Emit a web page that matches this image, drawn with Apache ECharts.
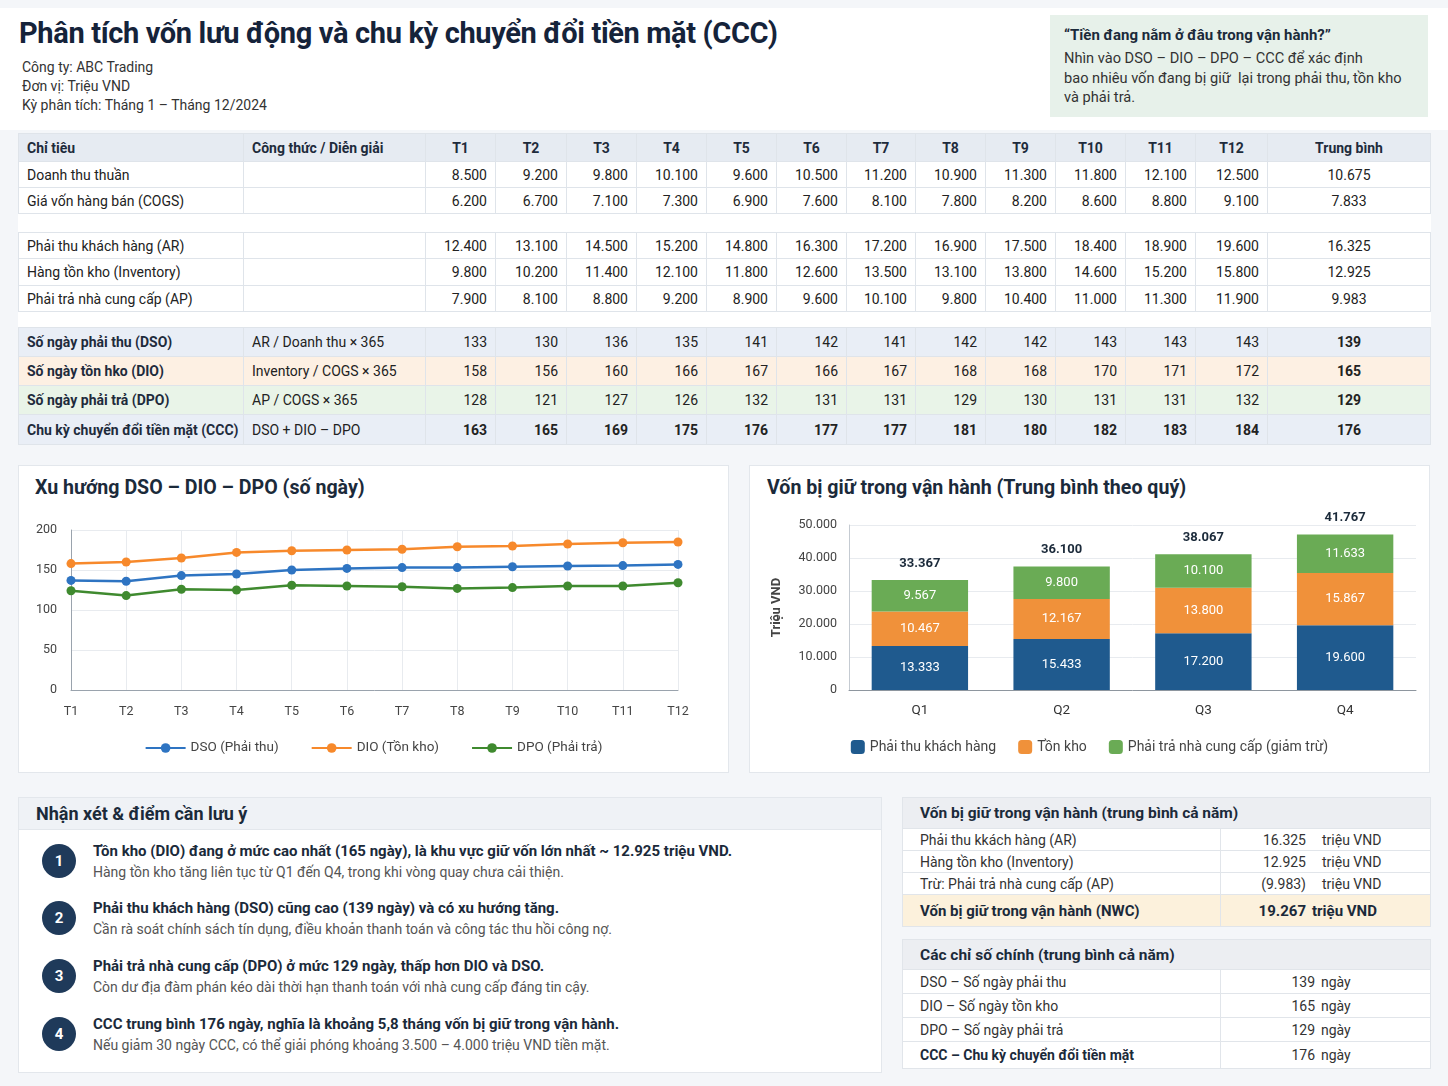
<!DOCTYPE html>
<html><head><meta charset="utf-8">
<script src="https://cdn.jsdelivr.net/npm/echarts/dist/echarts.min.js"></script>
<style>
body{margin:0;width:1448px;height:1086px;background:#f4f6f9;font-family:Roboto,"Noto Sans",sans-serif;color:#222;position:relative;overflow:hidden}
.abs{position:absolute}
#header{left:0;top:8px;width:1448px;height:122px;background:#fff}
#title{left:19px;top:16px;font-size:29px;font-weight:700;color:#15233a;letter-spacing:-0.35px;white-space:nowrap}
.sub{left:22px;font-size:14px;color:#333;white-space:nowrap}
#quote{left:1050px;top:15px;width:378px;height:102px;background:#e7f1ea;box-sizing:border-box;padding:10px 14px}
#quote .qt{font-size:15px;font-weight:700;color:#1b2a3a;line-height:20px;margin-bottom:4px}
#quote .qx{font-size:14.6px;color:#333;line-height:19.5px}
#tbl{left:18px;top:133px;width:1412px;border-collapse:collapse;table-layout:fixed;font-size:14px;color:#222;background:#fff}
#tbl td,#tbl th{border:1px solid #dfe4ea;padding:0 8px;white-space:nowrap;overflow:hidden}
#tbl th{background:#e6ebf2;font-weight:700;color:#1e2b3c;text-align:center}
#tbl th.l{text-align:left}
#tbl td.num{text-align:right}
#tbl td.avg{text-align:center}
#tbl tr.sp td{border-left:none;border-right:none;background:#fff}
#tbl tr.ratio td.name{font-weight:700;color:#1e2b3c}
.panel{background:#fff;border:1px solid #e3e7ec;box-sizing:border-box}
.ptitle{font-size:19.6px;font-weight:700;color:#1b2a3a;white-space:nowrap}
#notes{left:18px;top:797px;width:864px;height:276px}
#notes .hd{height:31px;background:#eff2f6;border-bottom:1px solid #e3e7ec;font-size:18px;font-weight:700;color:#1b2a3a;line-height:31px;padding-left:17px}
.circ{width:34px;height:34px;border-radius:17px;background:#1f3a5a;color:#fff;font-weight:700;font-size:15px;text-align:center;line-height:34px}
.nb{font-size:15px;font-weight:700;color:#1b2a3a;white-space:nowrap}
.ns{font-size:14px;color:#555;white-space:nowrap}
.st{border-collapse:collapse;table-layout:fixed;width:528px;font-size:14px;color:#333;background:#fff}
.st td{border:1px solid #e1e5ea;padding:0 0 0 17px;white-space:nowrap}
.st th{background:#eceef2;text-align:left;font-size:15.5px;font-weight:700;color:#1b2a3a;padding-left:17px;border:1px solid #e1e5ea}
.st td.v{padding:0}
.vv{display:inline-block;width:85px;text-align:right}
.vu{display:inline-block;padding-left:16px}
</style></head>
<body>
<div id="header" class="abs"></div>
<div id="title" class="abs">Phân tích vốn lưu động và chu kỳ chuyển đổi tiền mặt (CCC)</div>
<div class="abs sub" style="top:59px">Công ty: ABC Trading</div>
<div class="abs sub" style="top:78px">Đơn vị: Triệu VND</div>
<div class="abs sub" style="top:97px">Kỳ phân tích: Tháng 1 – Tháng 12/2024</div>
<div id="quote" class="abs">
  <div class="qt">“Tiền đang nằm ở đâu trong vận hành?”</div>
  <div class="qx">Nhìn vào DSO – DIO – DPO – CCC để xác định<br>bao nhiêu vốn đang bị giữ&nbsp; lại trong phải thu, tồn kho<br>và phải trả.</div>
</div>
<table id="tbl" class="abs"></table>

<div class="abs panel" style="left:18px;top:465px;width:711px;height:308px"></div>
<div class="abs ptitle" style="left:35px;top:476px">Xu hướng DSO – DIO – DPO (số ngày)</div>
<div id="lineChart" class="abs" style="left:18px;top:465px;width:711px;height:308px"></div>

<div class="abs panel" style="left:749px;top:465px;width:681px;height:308px"></div>
<div class="abs ptitle" style="left:767px;top:476px">Vốn bị giữ trong vận hành (Trung bình theo quý)</div>
<div id="barChart" class="abs" style="left:749px;top:465px;width:681px;height:308px"></div>

<div id="notes" class="abs panel"><div class="hd">Nhận xét &amp; điểm cần lưu ý</div></div>
<div id="wc" class="abs" style="left:902px;top:797px"></div>
<div id="kr" class="abs" style="left:902px;top:939px"></div>

<script>
// ---------- DATA ----------
const months = ['T1','T2','T3','T4','T5','T6','T7','T8','T9','T10','T11','T12'];
const revenue = [8500,9200,9800,10100,9600,10500,11200,10900,11300,11800,12100,12500];
const cogs = [6200,6700,7100,7300,6900,7600,8100,7800,8200,8600,8800,9100];
const receivables = [12400,13100,14500,15200,14800,16300,17200,16900,17500,18400,18900,19600];
const inventory = [9800,10200,11400,12100,11800,12600,13500,13100,13800,14600,15200,15800];
const payables = [7900,8100,8800,9200,8900,9600,10100,9800,10400,11000,11300,11900];
const dsoTable = [133,130,136,135,141,142,141,142,142,143,143,143];
const dioTable = [158,156,160,166,167,166,167,168,168,170,171,172];
const dpoTable = [128,121,127,126,132,131,131,129,130,131,131,132];
const cccTable = [163,165,169,175,176,177,177,181,180,182,183,184];
const averages = {revenue:10675,cogs:7833,ar:16325,inv:12925,ap:9983,dso:139,dio:165,dpo:129,ccc:176};

// line chart (read from plotted points)
const dsoTrend = [137,136,143,145,150,152,153,153,154,155,155.5,157];
const dioTrend = [158,160,165,172,174,175,176,179,180,182.5,184,185];
const dpoTrend = [124,118,126,125,131,130,129,127,128,130,130,134];
const lineTicks = [0,50,100,150,200];

// quarterly stacked bars
const quarters = ['Q1','Q2','Q3','Q4'];
const qReceivables = [13333,15433,17200,19600];
const qInventory = [10467,12167,13800,15867];
const qPayables = [9567,9800,10100,11633];
const qTotals = [33367,36100,38067,41767];

// summary
const nwcRows = [['Phải thu kkách hàng (AR)','16.325'],['Hàng tồn kho (Inventory)','12.925'],['Trừ: Phải trả nhà cung cấp (AP)','(9.983)']];
const nwcTotal = ['Vốn bị giữ trong vận hành (NWC)','19.267'];
const keyRatios = [['DSO – Số ngày phải thu','139'],['DIO – Số ngày tồn kho','165'],['DPO – Số ngày phải trả','129'],['CCC – Chu kỳ chuyển đổi tiền mặt','176']];
const notes = [
  ['Tồn kho (DIO) đang ở mức cao nhất (165 ngày), là khu vực giữ vốn lớn nhất ~ 12.925 triệu VND.','Hàng tồn kho tăng liên tục từ Q1 đến Q4, trong khi vòng quay chưa cải thiện.'],
  ['Phải thu khách hàng (DSO) cũng cao (139 ngày) và có xu hướng tăng.','Cần rà soát chính sách tín dụng, điều khoản thanh toán và công tác thu hồi công nợ.'],
  ['Phải trả nhà cung cấp (DPO) ở mức 129 ngày, thấp hơn DIO và DSO.','Còn dư địa đàm phán kéo dài thời hạn thanh toán với nhà cung cấp đáng tin cậy.'],
  ['CCC trung bình 176 ngày, nghĩa là khoảng 5,8 tháng vốn bị giữ trong vận hành.','Nếu giảm 30 ngày CCC, có thể giải phóng khoảng 3.500 – 4.000 triệu VND tiền mặt.']
];

// ---------- HELPERS ----------
const fmt = n => String(n).replace(/\B(?=(\d{3})+(?!\d))/g,'.');
const C = {blue:'#2e74c2', orange:'#f7892b', green:'#3f8a2f', bBlue:'#1f5a8e', bOrange:'#f0913a', bGreen:'#6aab55'};

// ---------- MAIN TABLE ----------
(function(){
  const widths=[225,182,70,71,70,70,70,70,69,70,70,70,70,72,163];
  let h='<colgroup>'+widths.map(w=>'<col style="width:'+w+'px">').join('')+'</colgroup>';
  h+='<tr style="height:28px"><th class="l">Chỉ tiêu</th><th class="l">Công thức / Diễn giải</th>'+months.map(m=>'<th>'+m+'</th>').join('')+'<th>Trung bình</th></tr>';
  const row=(name,formula,vals,avg,opts)=>{
    opts=opts||{};
    const bg=opts.bg?'background:'+opts.bg+';':'';
    const fw=opts.bold?'font-weight:700;':'';
    return '<tr class="'+(opts.cls||'')+'" style="height:'+opts.h+'px;'+bg+'"><td class="name">'+name+'</td><td>'+formula+'</td>'+
      vals.map(v=>'<td class="num" style="'+fw+'">'+fmt(v)+'</td>').join('')+
      '<td class="avg" style="'+(opts.avgBold?'font-weight:700;':'')+'">'+fmt(avg)+'</td></tr>';
  };
  const sp=hgt=>'<tr class="sp" style="height:'+hgt+'px"><td colspan="15"></td></tr>';
  h+=row('Doanh thu thuần','',revenue,averages.revenue,{h:26});
  h+=row('Giá vốn hàng bán (COGS)','',cogs,averages.cogs,{h:26});
  h+=sp(19);
  h+=row('Phải thu khách hàng (AR)','',receivables,averages.ar,{h:26});
  h+=row('Hàng tồn kho (Inventory)','',inventory,averages.inv,{h:27});
  h+=row('Phải trả nhà cung cấp (AP)','',payables,averages.ap,{h:26});
  h+=sp(16);
  h+=row('Số ngày phải thu (DSO)','AR / Doanh thu × 365',dsoTable,averages.dso,{h:29,bg:'#e9eef6',cls:'ratio',avgBold:true});
  h+=row('Số ngày tồn hko (DIO)','Inventory / COGS × 365',dioTable,averages.dio,{h:29,bg:'#fdf0e3',cls:'ratio',avgBold:true});
  h+=row('Số ngày phải trả (DPO)','AP / COGS × 365',dpoTable,averages.dpo,{h:29,bg:'#e9f4e8',cls:'ratio',avgBold:true});
  h+=row('Chu kỳ chuyển đổi tiền mặt (CCC)','DSO + DIO – DPO',cccTable,averages.ccc,{h:30,bg:'#e9eef6',cls:'ratio',bold:true,avgBold:true});
  document.getElementById('tbl').innerHTML=h;
  document.querySelectorAll('#tbl td.num').forEach(td=>td.style.paddingRight='8px');
})();

// ---------- NOTES ----------
(function(){
  const box=document.getElementById('notes');
  const ys=[54,111,169,227];
  notes.forEach((n,i)=>{
    const c=document.createElement('div');c.className='abs circ';c.style.left='23px';c.style.top=(ys[i]+7-17+2)+'px';c.textContent=i+1;box.appendChild(c);
    const b=document.createElement('div');b.className='abs nb';b.style.left='74px';b.style.top=(ys[i]-10)+'px';b.textContent=n[0];box.appendChild(b);
    const s=document.createElement('div');s.className='abs ns';s.style.left='74px';s.style.top=(ys[i]+12)+'px';s.textContent=n[1];box.appendChild(s);
  });
})();

// ---------- SUMMARY TABLES ----------
(function(){
  let h='<table class="st"><colgroup><col style="width:318px"><col style="width:210px"></colgroup>';
  h+='<tr style="height:31px"><th colspan="2">Vốn bị giữ trong vận hành (trung bình cả năm)</th></tr>';
  nwcRows.forEach(r=>{h+='<tr style="height:22px"><td>'+r[0]+'</td><td class="v"><span class="vv">'+r[1]+'</span><span class="vu">triệu VND</span></td></tr>';});
  h+='<tr style="height:32px;background:#fcf1dc;font-weight:700;font-size:15px;color:#1b2a3a"><td>'+nwcTotal[0]+'</td><td class="v"><span class="vv">'+nwcTotal[1]+'</span><span class="vu" style="padding-left:6px">triệu VND</span></td></tr>';
  h+='</table>';
  document.getElementById('wc').innerHTML=h;
  let k='<table class="st"><colgroup><col style="width:318px"><col style="width:210px"></colgroup>';
  k+='<tr style="height:30px"><th colspan="2">Các chỉ số chính (trung bình cả năm)</th></tr>';
  keyRatios.forEach((r,i)=>{k+='<tr style="height:'+(i==3?27:24)+'px"><td style="'+(i==3?'font-weight:700;color:#1b2a3a':'')+'">'+r[0]+'</td><td class="v"><span class="vv" style="width:94px">'+r[1]+'</span><span class="vu" style="padding-left:6px">ngày</span></td></tr>';});
  k+='</table>';
  document.getElementById('kr').innerHTML=k;
})();

// ---------- LINE CHART ----------
(function(){
  const ch=echarts.init(document.getElementById('lineChart'),null,{renderer:'canvas'});
  const mk=(name,data,color)=>({name,type:'line',data,symbol:'circle',symbolSize:9,
    lineStyle:{width:2.5,color},itemStyle:{color},emphasis:{disabled:true}});
  ch.setOption({
    animation:false,
    textStyle:{fontFamily:'Roboto'},
    grid:{left:53,right:51,top:65,bottom:83,containLabel:false},
    legend:{bottom:13,left:'center',itemWidth:40,itemHeight:12,itemGap:32,
      textStyle:{fontSize:13.5,color:'#444'},
      data:['DSO (Phải thu)','DIO (Tồn kho)','DPO (Phải trả)']},
    xAxis:{type:'category',data:months,boundaryGap:false,
      axisLine:{lineStyle:{color:'#9aa3ad'}},axisTick:{show:false},
      axisLabel:{color:'#444',fontSize:12.5,margin:15},
      splitLine:{show:true,lineStyle:{color:'#e8ebef'}}},
    yAxis:{type:'value',min:lineTicks[0],max:lineTicks[lineTicks.length-1],interval:lineTicks[1]-lineTicks[0],
      axisLine:{show:true,lineStyle:{color:'#9aa3ad'}},axisTick:{show:false},
      axisLabel:{color:'#444',fontSize:12.5,margin:14},
      splitLine:{lineStyle:{color:'#e8ebef'}}},
    series:[mk('DSO (Phải thu)',dsoTrend,C.blue),mk('DIO (Tồn kho)',dioTrend,C.orange),mk('DPO (Phải trả)',dpoTrend,C.green)]
  });
})();

// ---------- BAR CHART ----------
(function(){
  const ch=echarts.init(document.getElementById('barChart'),null,{renderer:'canvas'});
  const lab={show:true,position:'inside',color:'#fff',fontSize:13,formatter:p=>fmt(p.value)};
  const mk=(name,data,color)=>({name,type:'bar',stack:'wc',data,barWidth:'68%',itemStyle:{color},label:lab,emphasis:{disabled:true}});
  ch.setOption({
    animation:false,
    textStyle:{fontFamily:'Roboto'},
    grid:{left:100,right:14,top:60,bottom:83,containLabel:false},
    legend:{bottom:14,left:'center',itemWidth:14,itemHeight:14,itemGap:22,
      textStyle:{fontSize:14,color:'#444'},
      data:['Phải thu khách hàng','Tồn kho','Phải trả nhà cung cấp (giảm trừ)']},
    xAxis:{type:'category',data:quarters,
      axisLine:{lineStyle:{color:'#8e969f'}},axisTick:{show:false},
      axisLabel:{color:'#333',fontSize:13.5,margin:14}},
    yAxis:{type:'value',min:0,max:50000,interval:10000,
      name:'Triệu VND',nameLocation:'middle',nameGap:66,nameRotate:90,
      nameTextStyle:{fontSize:13,fontWeight:'bold',color:'#444'},
      axisLine:{show:true,lineStyle:{color:'#c5cbd2'}},axisTick:{show:false},
      axisLabel:{color:'#444',fontSize:12.5,margin:12,formatter:v=>fmt(v)},
      splitLine:{lineStyle:{color:'#e8ebef'}}},
    series:[
      mk('Phải thu khách hàng',qReceivables,C.bBlue),
      mk('Tồn kho',qInventory,C.bOrange),
      mk('Phải trả nhà cung cấp (giảm trừ)',qPayables,C.bGreen),
      {name:'Tổng',type:'bar',stack:'wc',data:quarters.map(()=>0),barWidth:'68%',itemStyle:{color:'transparent'},
       label:{show:true,position:'top',distance:10,color:'#1b2a3a',fontWeight:'bold',fontSize:13,formatter:p=>fmt(qTotals[p.dataIndex])},
       emphasis:{disabled:true}}
    ]
  });
})();
</script>
</body></html>
